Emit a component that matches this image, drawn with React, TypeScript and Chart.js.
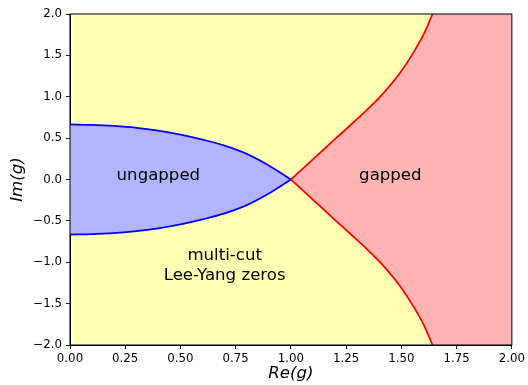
import React, { useEffect, useRef } from 'react';
import { Chart, registerables } from 'chart.js';

Chart.register(...registerables);

// ---- data ----
const blueX = [0, 0.1, 0.2, 0.3, 0.4, 0.5, 0.6, 0.7, 0.8, 0.9, 1.0];
const blueUpperY = [0.665, 0.66, 0.647, 0.625, 0.59, 0.543, 0.482, 0.41, 0.31, 0.17, 0];
const blueLowerY = [-0.665, -0.66, -0.647, -0.625, -0.59, -0.543, -0.482, -0.41, -0.31, -0.17, 0];

const redX = [1.0, 1.05, 1.1, 1.15, 1.2, 1.25, 1.3, 1.35, 1.4, 1.45, 1.5, 1.55, 1.6, 1.641];
const redUpperY = [0, 0.122, 0.245, 0.368, 0.49, 0.61, 0.732, 0.857, 0.99, 1.14, 1.31, 1.515, 1.75, 2.0];
const redLowerY = [0, -0.122, -0.245, -0.368, -0.49, -0.61, -0.732, -0.857, -0.99, -1.14, -1.31, -1.515, -1.75, -2.0];

// background (multi-cut) region and the fully gapped strip
const bgX = [0.01, 2.0];
const bgTopY = [2.0, 2.0];
const bgBottomY = -1.99;
const stripX = [1.635, 2.0];
const stripTopY = [2.0, 2.0];
const stripBottomY = -2.0;

const xTicks = [0, 0.25, 0.5, 0.75, 1.0, 1.25, 1.5, 1.75, 2.0];
const xTickLabels = ['0.00', '0.25', '0.50', '0.75', '1.00', '1.25', '1.50', '1.75', '2.00'];
const yTicks = [-2, -1.5, -1, -0.5, 0, 0.5, 1, 1.5, 2];
const yTickLabels = ['\u22122.0', '\u22121.5', '\u22121.0', '\u22120.5', '0.0', '0.5', '1.0', '1.5', '2.0'];

const regionNames = [['ungapped'], ['gapped'], ['multi-cut', 'Lee-Yang zeros']];
const regionAnchorX = [0.4, 1.45, 0.7];
const regionAnchorY = [0.0, 0.0, -0.973];

const FONT = "'DejaVu Sans', sans-serif";
const YELLOW = '#ffffb3';
const BLUE_FILL = '#b3b3ff';
const RED_FILL = '#ffb3b3';

const pts = (xs: number[], ys: number[]) => xs.map((x, i) => ({ x, y: ys[i] }));

const lookup = (ticks: number[], labels: string[]) => (v: any) => {
  const i = ticks.findIndex((t) => Math.abs(t - Number(v)) < 1e-9);
  return i >= 0 ? labels[i] : '';
};

const frameAndText = {
  id: 'frameAndText',
  afterDatasetsDraw(chart: any) {
    const { ctx, scales } = chart;
    ctx.save();
    ctx.fillStyle = '#000';
    ctx.font = `16.6px ${FONT}`;
    ctx.textAlign = 'center';
    ctx.textBaseline = 'alphabetic';
    regionNames.forEach((lines, k) => {
      const px = scales.x.getPixelForValue(regionAnchorX[k]);
      const py = scales.y.getPixelForValue(regionAnchorY[k]);
      lines.forEach((t, j) => ctx.fillText(t, px, py + j * 19.6));
    });
    ctx.restore();
  },
  afterDraw(chart: any) {
    const { ctx, chartArea } = chart;
    ctx.save();
    ctx.strokeStyle = '#000';
    ctx.lineWidth = 1;
    ctx.strokeRect(chartArea.left, chartArea.top, chartArea.right - chartArea.left, chartArea.bottom - chartArea.top);
    ctx.restore();
  },
};

export default function App() {
  const ref = useRef<HTMLCanvasElement | null>(null);
  useEffect(() => {
    if (!ref.current) return;
    const lineBase = { pointRadius: 0, pointHoverRadius: 0, cubicInterpolationMode: 'monotone' as const };
    const chart = new Chart(ref.current, {
      type: 'line',
      data: {
        datasets: [
          {
            data: pts(bgX, bgTopY),
            borderWidth: 0,
            borderColor: 'rgba(0,0,0,0)',
            backgroundColor: YELLOW,
            fill: { value: bgBottomY },
            pointRadius: 0,
            tension: 0,
            order: 10,
          } as any,
          {
            data: pts(blueX, blueUpperY),
            borderColor: '#0000ff',
            borderWidth: 1.75,
            backgroundColor: BLUE_FILL,
            fill: '+1',
            order: 2,
            ...lineBase,
          },
          {
            data: pts(blueX, blueLowerY),
            borderColor: '#0000ff',
            borderWidth: 1.75,
            fill: false,
            order: 1,
            ...lineBase,
          },
          {
            data: pts(redX, redUpperY),
            borderColor: '#ff0000',
            borderWidth: 1.75,
            backgroundColor: RED_FILL,
            fill: '+1',
            order: 4,
            ...lineBase,
          },
          {
            data: pts(redX, redLowerY),
            borderColor: '#ff0000',
            borderWidth: 1.75,
            fill: false,
            order: 3,
            ...lineBase,
          },
          {
            data: pts(stripX, stripTopY),
            borderWidth: 0,
            borderColor: 'rgba(0,0,0,0)',
            backgroundColor: RED_FILL,
            fill: { value: stripBottomY },
            pointRadius: 0,
            tension: 0,
            order: 9,
          } as any,
        ],
      },
      options: {
        animation: false,
        responsive: false,
        devicePixelRatio: 1,
        events: [],
        layout: { padding: { top: 14, right: 15, left: 0, bottom: 0 } },
        plugins: { legend: { display: false }, tooltip: { enabled: false } },
        scales: {
          x: {
            type: 'linear',
            min: 0,
            max: 2,
            afterBuildTicks: (s: any) => {
              s.ticks = xTicks.map((v) => ({ value: v }));
            },
            afterFit: (s: any) => {
              s.height = 40;
            },
            ticks: {
              callback: lookup(xTicks, xTickLabels),
              autoSkip: false,
              maxRotation: 0,
              padding: 3,
              color: '#000',
              font: { family: FONT, size: 11.8 },
            },
            grid: { drawOnChartArea: false, drawTicks: true, tickLength: 4, color: '#000', lineWidth: 0.9 },
            border: { display: true, color: '#000', width: 1 },
            title: {
              display: true,
              text: 'Re(g)',
              color: '#000',
              font: { family: FONT, size: 16.6, style: 'italic' },
              padding: { top: 0, bottom: 1.2 },
            },
          },
          y: {
            type: 'linear',
            min: -2,
            max: 2,
            afterBuildTicks: (s: any) => {
              s.ticks = yTicks.map((v) => ({ value: v }));
            },
            afterFit: (s: any) => {
              s.width = 70;
            },
            ticks: {
              callback: lookup(yTicks, yTickLabels),
              autoSkip: false,
              padding: 4,
              color: '#000',
              font: { family: FONT, size: 11.8 },
            },
            grid: { drawOnChartArea: false, drawTicks: true, tickLength: 4, color: '#000', lineWidth: 0.9 },
            border: { display: true, color: '#000', width: 1 },
            title: {
              display: true,
              text: 'Im(g)',
              color: '#000',
              font: { family: FONT, size: 16.6, style: 'italic' },
              padding: { top: 7.5, bottom: 0 },
            },
          },
        },
      } as any,
      plugins: [frameAndText],
    });
    return () => chart.destroy();
  }, []);

  return (
    <div style={{ position: 'absolute', left: 0, top: 0, width: 528, height: 385, background: '#fff' }}>
      <canvas ref={ref} width={528} height={385} style={{ display: 'block', width: 528, height: 385 }} />
    </div>
  );
}
